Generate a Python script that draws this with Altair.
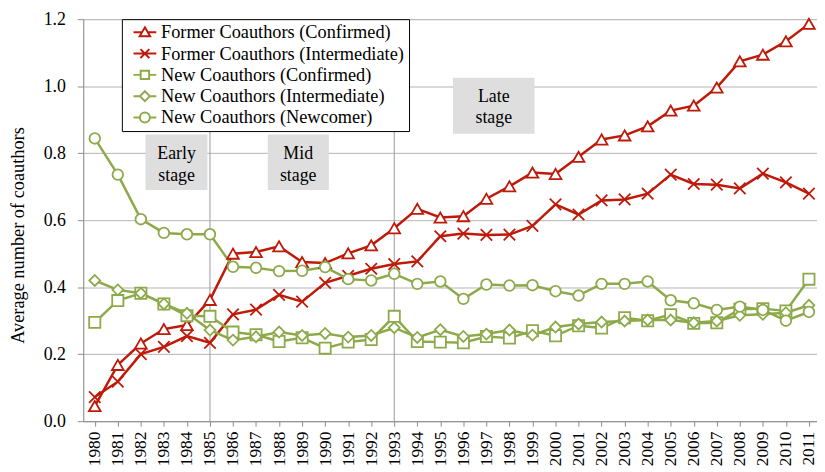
import altair as alt
import pandas as pd

years = list(range(1980, 2012))

former_confirmed = [0.045, 0.168, 0.232, 0.275, 0.287, 0.362, 0.500, 0.505, 0.522, 0.475,
                    0.472, 0.501, 0.525, 0.576, 0.634, 0.608, 0.612, 0.664, 0.701, 0.742,
                    0.738, 0.789, 0.841, 0.853, 0.880, 0.927, 0.942, 0.996, 1.074, 1.094,
                    1.134, 1.186]
former_intermediate = [0.072, 0.118, 0.200, 0.222, 0.254, 0.234, 0.319, 0.333, 0.377, 0.357,
                       0.413, 0.434, 0.455, 0.469, 0.477, 0.552, 0.560, 0.556, 0.557, 0.583,
                       0.647, 0.617, 0.659, 0.662, 0.679, 0.736, 0.708, 0.706, 0.695, 0.739,
                       0.713, 0.679]
new_confirmed = [0.295, 0.360, 0.382, 0.350, 0.315, 0.313, 0.266, 0.258, 0.238, 0.249,
                 0.218, 0.236, 0.244, 0.313, 0.238, 0.236, 0.234, 0.253, 0.248, 0.270,
                 0.255, 0.285, 0.278, 0.309, 0.300, 0.318, 0.292, 0.294, 0.334, 0.336,
                 0.329, 0.424]
new_intermediate = [0.420, 0.392, 0.382, 0.350, 0.322, 0.272, 0.242, 0.252, 0.266, 0.256,
                    0.262, 0.251, 0.256, 0.279, 0.250, 0.273, 0.253, 0.260, 0.272, 0.257,
                    0.281, 0.290, 0.296, 0.299, 0.302, 0.302, 0.294, 0.299, 0.316, 0.319,
                    0.324, 0.346]
new_newcomer = [0.844, 0.736, 0.603, 0.562, 0.558, 0.558, 0.461, 0.458, 0.448, 0.449,
                0.460, 0.424, 0.420, 0.440, 0.410, 0.417, 0.365, 0.408, 0.405, 0.406,
                0.388, 0.375, 0.410, 0.410, 0.417, 0.361, 0.352, 0.332, 0.342, 0.332,
                0.300, 0.326]

series_names = ["Former Coauthors (Confirmed)", "Former Coauthors (Intermediate)",
                "New Coauthors (Confirmed)", "New Coauthors (Intermediate)",
                "New Coauthors (Newcomer)"]
series_values = [former_confirmed, former_intermediate, new_confirmed,
                 new_intermediate, new_newcomer]

RED = "#BE1A0A"
GREEN = "#8DAA4B"
series_colors = [RED, RED, GREEN, GREEN, GREEN]
marker_shapes = ["triangle-up", "M-1,-1L1,1M-1,1L1,-1", "square", "diamond", "circle"]
marker_sizes = [140, 115, 90, 125, 130]
legend_shapes = [
    "M-2.3,0H-0.55M0.55,0H2.3M0,-1L1.05,0.8L-1.05,0.8Z",
    "M-2.3,0H2.3M-0.9,-0.9L0.9,0.9M-0.9,0.9L0.9,-0.9",
    "M-2.3,0H-0.85M0.85,0H2.3M-0.85,-0.85H0.85V0.85H-0.85Z",
    "M-2.3,0H-1M1,0H2.3M0,-1L1,0L0,1L-1,0Z",
    "M-2.3,0H-1M1,0H2.3M-1,0A1,1 0 1,0 1,0A1,1 0 1,0 -1,0Z",
]

stage_labels = ["Early\nstage", "Mid\nstage", "Late\nstage"]
stage_x1 = [1982.2, 1987.51, 1995.55]
stage_x2 = [1984.89, 1990.16, 1999.09]
stage_y1 = [0.856, 0.856, 1.025]
stage_y2 = [0.690, 0.690, 0.858]
stage_text_x = [1983.55, 1988.83, 1997.32]
stage_text_y = [0.798, 0.798, 0.969]
stage_dividers = [1985, 1993]
y_ticks = [0.0, 0.2, 0.4, 0.6, 0.8, 1.0, 1.2]

FONT = "Liberation Serif, Times New Roman, DejaVu Serif, serif"

rows = []
for name, vals in zip(series_names, series_values):
    for yr, v in zip(years, vals):
        rows.append({"series": name, "year": yr, "value": v})
df = pd.DataFrame(rows)

stages = pd.DataFrame({"label": stage_labels, "x1": stage_x1, "x2": stage_x2,
                       "y1": stage_y1, "y2": stage_y2,
                       "tx": stage_text_x, "ty": stage_text_y})
dividers = pd.DataFrame({"year": stage_dividers})

x_scale = alt.Scale(domain=[1979.5, 2011.35], nice=False, zero=False)
y_scale = alt.Scale(domain=[0, 1.2], nice=False, zero=False)

x_axis = alt.Axis(values=years, format="d", labelAngle=270, grid=False, title=None,
                  tickSize=5, labelPadding=5, labelFontSize=17.5, labelFont=FONT,
                  labelColor="black", domainColor="#8c8c8c", tickColor="#8c8c8c",
                  labelOverlap=False, labelFlush=False, labelBound=False)
y_axis = alt.Axis(values=y_ticks, format=".1f", grid=True, gridColor="#b4b4b4",
                  tickSize=6, labelPadding=12, labelFontSize=18, labelFont=FONT,
                  labelColor="black", domainColor="#8c8c8c", tickColor="#8c8c8c",
                  title="Average number of coauthors", titleFont=FONT, titleFontSize=18.5,
                  titleFontWeight="normal", titleColor="black", titleAngle=270,
                  titleX=-66, titleY=218, titleAlign="center", titleBaseline="middle")

color_scale = alt.Scale(domain=series_names, range=series_colors)

X = lambda f: alt.X(f, scale=x_scale, axis=x_axis)
Y = lambda f: alt.Y(f, scale=y_scale, axis=y_axis)

base = alt.Chart(df)

divider_layer = alt.Chart(dividers).mark_rule(color="#9a9a9a", strokeWidth=1).encode(
    x=X("year:Q")
)

stage_rects = alt.Chart(stages).mark_rect(fill="#dedede").encode(
    x=X("x1:Q"), x2="x2:Q",
    y=Y("y1:Q"), y2="y2:Q",
)
stage_text = alt.Chart(stages).mark_text(font=FONT, fontSize=18, lineBreak="\n",
                                         lineHeight=22, color="black",
                                         align="center", baseline="middle").encode(
    x=X("tx:Q"), y=Y("ty:Q"), text="label:N"
)

lines = base.mark_line(strokeWidth=2.5).encode(
    x=X("year:Q"),
    y=Y("value:Q"),
    color=alt.Color("series:N", scale=color_scale, legend=None),
    detail="series:N",
)

points = base.mark_point(filled=False, fill="white", strokeWidth=1.8, opacity=1).encode(
    x=X("year:Q"),
    y=Y("value:Q"),
    color=alt.Color("series:N", scale=color_scale, legend=None),
    shape=alt.Shape("series:N", scale=alt.Scale(domain=series_names, range=marker_shapes),
                    legend=None),
    size=alt.Size("series:N", scale=alt.Scale(domain=series_names, range=marker_sizes),
                  legend=None),
)

legend_props = dict(orient="none", legendX=39, legendY=0, title=None,
                    fillColor="white", strokeColor="black",
                    padding=4, rowPadding=2.5, symbolSize=100, symbolStrokeWidth=2,
                    symbolFillColor="white", symbolOffset=10, labelOffset=7,
                    labelFont=FONT, labelFontSize=18.5, labelColor="black", labelLimit=0)

legend_layer = base.transform_filter("datum.year < 0").mark_point(
    filled=False, strokeWidth=2, opacity=1).encode(
    x=X("year:Q"),
    y=Y("value:Q"),
    color=alt.Color("series:N", scale=alt.Scale(domain=series_names, range=series_colors),
                    legend=alt.Legend(**legend_props)),
    shape=alt.Shape("series:N", scale=alt.Scale(domain=series_names, range=legend_shapes),
                    legend=alt.Legend(**legend_props)),
)

chart = alt.layer(divider_layer, stage_rects, stage_text, lines, points, legend_layer).resolve_scale(
    color="independent", shape="independent", size="independent"
).properties(
    width=741, height=406,
    autosize=alt.AutoSizeParams(type="none"),
    padding={"left": 76, "top": 9, "right": 0, "bottom": 47},
).configure_view(stroke=None).configure(background="white", font=FONT)

chart.save("out.html", embed_options={"renderer": "svg", "actions": False})
